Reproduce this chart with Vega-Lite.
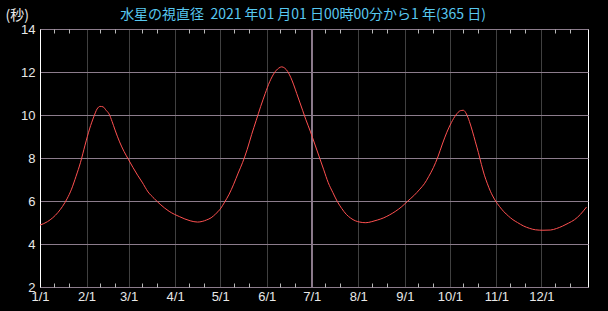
{
  "$schema": "https://vega.github.io/schema/vega-lite/v6.json",
  "width": 548,
  "height": 258,
  "autosize": "none",
  "padding": {"left": 40, "top": 29, "right": 20, "bottom": 24},
  "background": "#000000",
  "config": {
    "view": {"stroke": "#ffffff", "strokeWidth": 1},
    "axis": {"labelFont": "Liberation Sans", "labelFontSize": 13, "labelColor": "#e8e8e8"}
  },
  "title": {
    "text": "水星の視直径\u00a0\u00a02021 年01 月01 日00時00分から1 年(365 日)",
    "font": "Noto Sans CJK JP",
    "fontSize": 14,
    "fontWeight": "normal",
    "color": "#58c8f0",
    "anchor": "middle",
    "dx": -11,
    "offset": -14
  },
  "data": {
    "values": [
      {"date": "2021-01-01", "diameter": 4.88},
      {"date": "2021-01-06", "diameter": 5.04},
      {"date": "2021-01-13", "diameter": 5.47},
      {"date": "2021-01-16", "diameter": 5.75},
      {"date": "2021-01-19", "diameter": 6.10},
      {"date": "2021-01-22", "diameter": 6.55},
      {"date": "2021-01-25", "diameter": 7.15},
      {"date": "2021-01-28", "diameter": 7.80},
      {"date": "2021-01-31", "diameter": 8.60},
      {"date": "2021-02-03", "diameter": 9.35},
      {"date": "2021-02-06", "diameter": 9.95},
      {"date": "2021-02-08", "diameter": 10.28},
      {"date": "2021-02-10", "diameter": 10.40},
      {"date": "2021-02-12", "diameter": 10.38},
      {"date": "2021-02-14", "diameter": 10.22},
      {"date": "2021-02-16", "diameter": 10.05},
      {"date": "2021-02-18", "diameter": 9.70},
      {"date": "2021-02-20", "diameter": 9.30},
      {"date": "2021-02-23", "diameter": 8.75},
      {"date": "2021-02-26", "diameter": 8.30},
      {"date": "2021-03-01", "diameter": 7.92},
      {"date": "2021-03-04", "diameter": 7.55},
      {"date": "2021-03-07", "diameter": 7.20},
      {"date": "2021-03-10", "diameter": 6.88},
      {"date": "2021-03-14", "diameter": 6.42},
      {"date": "2021-03-18", "diameter": 6.12},
      {"date": "2021-03-22", "diameter": 5.85},
      {"date": "2021-03-28", "diameter": 5.52},
      {"date": "2021-04-04", "diameter": 5.27},
      {"date": "2021-04-11", "diameter": 5.08},
      {"date": "2021-04-16", "diameter": 5.02},
      {"date": "2021-04-19", "diameter": 5.05},
      {"date": "2021-04-22", "diameter": 5.12},
      {"date": "2021-04-25", "diameter": 5.22},
      {"date": "2021-04-28", "diameter": 5.40},
      {"date": "2021-05-01", "diameter": 5.62},
      {"date": "2021-05-04", "diameter": 5.95},
      {"date": "2021-05-07", "diameter": 6.32},
      {"date": "2021-05-10", "diameter": 6.78},
      {"date": "2021-05-13", "diameter": 7.30},
      {"date": "2021-05-16", "diameter": 7.80},
      {"date": "2021-05-19", "diameter": 8.40},
      {"date": "2021-05-22", "diameter": 9.10},
      {"date": "2021-05-25", "diameter": 9.75},
      {"date": "2021-05-28", "diameter": 10.40},
      {"date": "2021-05-31", "diameter": 11.00},
      {"date": "2021-06-03", "diameter": 11.55},
      {"date": "2021-06-06", "diameter": 11.95},
      {"date": "2021-06-09", "diameter": 12.18},
      {"date": "2021-06-11", "diameter": 12.24},
      {"date": "2021-06-13", "diameter": 12.18},
      {"date": "2021-06-15", "diameter": 12.02},
      {"date": "2021-06-17", "diameter": 11.75},
      {"date": "2021-06-19", "diameter": 11.40},
      {"date": "2021-06-21", "diameter": 11.00},
      {"date": "2021-06-23", "diameter": 10.60},
      {"date": "2021-06-25", "diameter": 10.20},
      {"date": "2021-06-27", "diameter": 9.80},
      {"date": "2021-06-30", "diameter": 9.25},
      {"date": "2021-07-03", "diameter": 8.65},
      {"date": "2021-07-06", "diameter": 8.05},
      {"date": "2021-07-09", "diameter": 7.45},
      {"date": "2021-07-12", "diameter": 6.85},
      {"date": "2021-07-15", "diameter": 6.40},
      {"date": "2021-07-18", "diameter": 5.98},
      {"date": "2021-07-21", "diameter": 5.65},
      {"date": "2021-07-24", "diameter": 5.38},
      {"date": "2021-07-27", "diameter": 5.20},
      {"date": "2021-07-30", "diameter": 5.08},
      {"date": "2021-08-02", "diameter": 5.02},
      {"date": "2021-08-06", "diameter": 4.99},
      {"date": "2021-08-10", "diameter": 5.04},
      {"date": "2021-08-14", "diameter": 5.12},
      {"date": "2021-08-18", "diameter": 5.22},
      {"date": "2021-08-22", "diameter": 5.36},
      {"date": "2021-08-26", "diameter": 5.53},
      {"date": "2021-08-30", "diameter": 5.74},
      {"date": "2021-09-03", "diameter": 6.00},
      {"date": "2021-09-07", "diameter": 6.25},
      {"date": "2021-09-11", "diameter": 6.55},
      {"date": "2021-09-14", "diameter": 6.80},
      {"date": "2021-09-17", "diameter": 7.15},
      {"date": "2021-09-20", "diameter": 7.55},
      {"date": "2021-09-23", "diameter": 8.05},
      {"date": "2021-09-26", "diameter": 8.65},
      {"date": "2021-09-29", "diameter": 9.20},
      {"date": "2021-10-02", "diameter": 9.65},
      {"date": "2021-10-05", "diameter": 10.00},
      {"date": "2021-10-08", "diameter": 10.20},
      {"date": "2021-10-10", "diameter": 10.22},
      {"date": "2021-10-12", "diameter": 10.05},
      {"date": "2021-10-14", "diameter": 9.70},
      {"date": "2021-10-16", "diameter": 9.25},
      {"date": "2021-10-18", "diameter": 8.75},
      {"date": "2021-10-20", "diameter": 8.25},
      {"date": "2021-10-22", "diameter": 7.70},
      {"date": "2021-10-24", "diameter": 7.20},
      {"date": "2021-10-26", "diameter": 6.80},
      {"date": "2021-10-28", "diameter": 6.45},
      {"date": "2021-10-31", "diameter": 6.05},
      {"date": "2021-11-03", "diameter": 5.75},
      {"date": "2021-11-06", "diameter": 5.50},
      {"date": "2021-11-09", "diameter": 5.30},
      {"date": "2021-11-12", "diameter": 5.13},
      {"date": "2021-11-15", "diameter": 5.00},
      {"date": "2021-11-19", "diameter": 4.84},
      {"date": "2021-11-23", "diameter": 4.73},
      {"date": "2021-11-27", "diameter": 4.66},
      {"date": "2021-12-02", "diameter": 4.64},
      {"date": "2021-12-07", "diameter": 4.65},
      {"date": "2021-12-11", "diameter": 4.72},
      {"date": "2021-12-15", "diameter": 4.83},
      {"date": "2021-12-19", "diameter": 4.97},
      {"date": "2021-12-23", "diameter": 5.13},
      {"date": "2021-12-27", "diameter": 5.38},
      {"date": "2021-12-31", "diameter": 5.72}
    ]
  },
  "layer": [
    {
      "mark": {"type": "rule", "color": "#8c7c8c", "strokeWidth": 1},
      "encoding": {
        "x": {"datum": {"year": 2021, "month": 7, "date": 1, "utc": true}, "type": "temporal", "axis": null}
      }
    },
    {
      "mark": {"type": "line", "color": "#ff5050", "strokeWidth": 1, "interpolate": "monotone", "clip": true},
      "encoding": {
        "x": {
          "field": "date",
          "type": "temporal",
          "scale": {"type": "utc", "domain": [{"year": 2021, "month": 1, "date": 1, "utc": true}, {"year": 2022, "month": 1, "date": 1, "utc": true}]},
          "axis": {
            "orient": "bottom",
            "title": null,
            "values": [
              {"year": 2021, "month": 1, "date": 1, "utc": true},
              {"year": 2021, "month": 2, "date": 1, "utc": true},
              {"year": 2021, "month": 3, "date": 1, "utc": true},
              {"year": 2021, "month": 4, "date": 1, "utc": true},
              {"year": 2021, "month": 5, "date": 1, "utc": true},
              {"year": 2021, "month": 6, "date": 1, "utc": true},
              {"year": 2021, "month": 7, "date": 1, "utc": true},
              {"year": 2021, "month": 8, "date": 1, "utc": true},
              {"year": 2021, "month": 9, "date": 1, "utc": true},
              {"year": 2021, "month": 10, "date": 1, "utc": true},
              {"year": 2021, "month": 11, "date": 1, "utc": true},
              {"year": 2021, "month": 12, "date": 1, "utc": true}
            ],
            "format": "%-m/%-d",
            "labelFlush": false,
            "labelOverlap": false,
            "labelAngle": 0,
            "labelPadding": 3,
            "domain": false,
            "ticks": false,
            "grid": true,
            "gridColor": "#404040"
          }
        },
        "y": {
          "field": "diameter",
          "type": "quantitative",
          "scale": {"domain": [2, 14], "nice": false, "zero": false},
          "axis": {
            "values": [2, 4, 6, 8, 10, 12, 14],
            "title": "(秒)",
            "titleAngle": 0,
            "titleX": -35,
            "titleY": -10,
            "titleAlign": "left",
            "titleBaseline": "alphabetic",
            "titleFont": "Noto Sans CJK JP",
            "titleFontSize": 14,
            "titleFontWeight": "normal",
            "titleColor": "#e8e8e8",
            "ticks": false,
            "labelPadding": 5,
            "labelBaseline": "middle",
            "domainColor": "#ffffff",
            "grid": true,
            "gridColor": "#8c7c8c"
          }
        }
      }
    },
    {
      "mark": {"type": "line", "strokeOpacity": 0},
      "encoding": {
        "x": {
          "field": "date",
          "type": "temporal",
          "scale": {"type": "utc", "domain": [{"year": 2021, "month": 1, "date": 1, "utc": true}, {"year": 2022, "month": 1, "date": 1, "utc": true}]},
          "axis": {
            "orient": "top",
            "title": null,
            "values": [
              {"year": 2021, "month": 1, "date": 10, "utc": true}, {"year": 2021, "month": 1, "date": 20, "utc": true},
              {"year": 2021, "month": 2, "date": 10, "utc": true}, {"year": 2021, "month": 2, "date": 20, "utc": true},
              {"year": 2021, "month": 3, "date": 10, "utc": true}, {"year": 2021, "month": 3, "date": 20, "utc": true},
              {"year": 2021, "month": 4, "date": 10, "utc": true}, {"year": 2021, "month": 4, "date": 20, "utc": true},
              {"year": 2021, "month": 5, "date": 10, "utc": true}, {"year": 2021, "month": 5, "date": 20, "utc": true},
              {"year": 2021, "month": 6, "date": 10, "utc": true}, {"year": 2021, "month": 6, "date": 20, "utc": true},
              {"year": 2021, "month": 7, "date": 10, "utc": true}, {"year": 2021, "month": 7, "date": 20, "utc": true},
              {"year": 2021, "month": 8, "date": 10, "utc": true}, {"year": 2021, "month": 8, "date": 20, "utc": true},
              {"year": 2021, "month": 9, "date": 10, "utc": true}, {"year": 2021, "month": 9, "date": 20, "utc": true},
              {"year": 2021, "month": 10, "date": 10, "utc": true}, {"year": 2021, "month": 10, "date": 20, "utc": true},
              {"year": 2021, "month": 11, "date": 10, "utc": true}, {"year": 2021, "month": 11, "date": 20, "utc": true},
              {"year": 2021, "month": 12, "date": 10, "utc": true}, {"year": 2021, "month": 12, "date": 20, "utc": true}
            ],
            "labels": false,
            "grid": false,
            "domain": false,
            "ticks": true,
            "offset": -4,
            "tickSize": 4,
            "tickColor": "#b8b8b8"
          }
        },
        "y": {"field": "diameter", "type": "quantitative", "scale": {"domain": [2, 14], "nice": false, "zero": false}}
      }
    },
    {
      "mark": {"type": "line", "strokeOpacity": 0},
      "encoding": {
        "x": {
          "field": "date",
          "type": "temporal",
          "scale": {"type": "utc", "domain": [{"year": 2021, "month": 1, "date": 1, "utc": true}, {"year": 2022, "month": 1, "date": 1, "utc": true}]},
          "axis": {
            "orient": "bottom",
            "title": null,
            "values": [
              {"year": 2021, "month": 1, "date": 10, "utc": true}, {"year": 2021, "month": 1, "date": 20, "utc": true},
              {"year": 2021, "month": 2, "date": 10, "utc": true}, {"year": 2021, "month": 2, "date": 20, "utc": true},
              {"year": 2021, "month": 3, "date": 10, "utc": true}, {"year": 2021, "month": 3, "date": 20, "utc": true},
              {"year": 2021, "month": 4, "date": 10, "utc": true}, {"year": 2021, "month": 4, "date": 20, "utc": true},
              {"year": 2021, "month": 5, "date": 10, "utc": true}, {"year": 2021, "month": 5, "date": 20, "utc": true},
              {"year": 2021, "month": 6, "date": 10, "utc": true}, {"year": 2021, "month": 6, "date": 20, "utc": true},
              {"year": 2021, "month": 7, "date": 10, "utc": true}, {"year": 2021, "month": 7, "date": 20, "utc": true},
              {"year": 2021, "month": 8, "date": 10, "utc": true}, {"year": 2021, "month": 8, "date": 20, "utc": true},
              {"year": 2021, "month": 9, "date": 10, "utc": true}, {"year": 2021, "month": 9, "date": 20, "utc": true},
              {"year": 2021, "month": 10, "date": 10, "utc": true}, {"year": 2021, "month": 10, "date": 20, "utc": true},
              {"year": 2021, "month": 11, "date": 10, "utc": true}, {"year": 2021, "month": 11, "date": 20, "utc": true},
              {"year": 2021, "month": 12, "date": 10, "utc": true}, {"year": 2021, "month": 12, "date": 20, "utc": true}
            ],
            "labels": false,
            "grid": false,
            "domain": false,
            "ticks": true,
            "offset": -4,
            "tickSize": 4,
            "tickColor": "#b8b8b8"
          }
        },
        "y": {"field": "diameter", "type": "quantitative", "scale": {"domain": [2, 14], "nice": false, "zero": false}}
      }
    }
  ],
  "resolve": {"axis": {"x": "independent"}}
}
